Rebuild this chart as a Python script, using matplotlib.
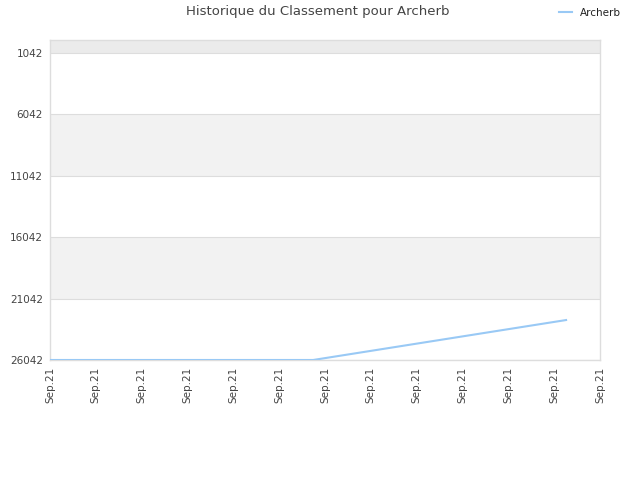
import matplotlib
matplotlib.use("Agg")
import matplotlib.pyplot as plt

title = "Historique du Classement pour Archerb"
series_name = "Archerb"
x_vals = [0, 5.74, 11.26]
ranks = [26042, 26042, 22790]
x_tick_labels = ["Sep.21"] * 13
y_ticks = [1042, 6042, 11042, 16042, 21042, 26042]

fig = plt.figure(figsize=(6.4, 4.8), dpi=100)
ax = fig.add_axes([50/640, 1-360/480, 550/640, 320/480])

ymin, ymax = 0, 26042
# bands
band_edges = [0] + y_ticks
band_colors = ["#ebebeb", "#ffffff", "#f2f2f2", "#ffffff", "#f2f2f2", "#ffffff"]
for i in range(len(band_edges)-1):
    ax.axhspan(band_edges[i], band_edges[i+1], color=band_colors[i], zorder=0, lw=0)
for t in y_ticks:
    ax.axhline(t, color="#dddddd", lw=0.8, zorder=1)

ax.plot(x_vals, ranks, color="#99c9f5", lw=1.5, zorder=3, label=series_name)

ax.set_xlim(0, 12)
ax.set_ylim(ymax, ymin)
ax.set_yticks(y_ticks)
ax.set_yticklabels([str(t) for t in y_ticks])
ax.set_xticks(range(13))
ax.set_xticklabels(x_tick_labels, rotation=90)
ax.tick_params(axis="both", length=0, labelsize=7.5, labelcolor="#444444", pad=5)
for s in ax.spines.values():
    s.set_color("#dddddd")
    s.set_linewidth(1)

fig.text(318/640, 1-12/480, title, ha="center", va="center", fontsize=9.5, color="#444444")
leg = fig.legend(loc="center", bbox_to_anchor=(590/640, 1-13/480), frameon=False,
                 fontsize=7.5, handlelength=1.2, handletextpad=0.8)
for t in leg.get_texts():
    t.set_color("#222222")

fig.savefig("out.png", dpi=100)
